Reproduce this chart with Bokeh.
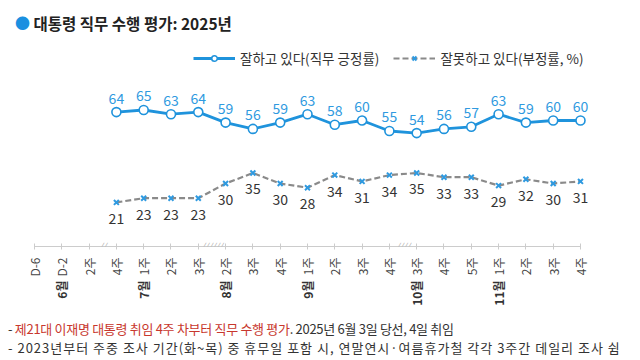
import math
from bokeh.plotting import figure
from bokeh.layouts import column
from bokeh.models import (Range1d, FixedTicker, LinearAxis, Label, LabelSet,
                          Legend, LegendItem, ColumnDataSource, Div)
from bokeh.embed import file_html
from bokeh.resources import INLINE
from bokeh.core.properties import value

# ---------------- data ----------------
tick_labels = ["D-6", "D-2", "2주", "4주", "1주", "2주", "3주", "2주", "3주", "4주",
               "1주", "2주", "3주", "4주", "3주", "4주", "5주", "1주", "2주", "3주", "4주"]
month_labels = ["6월", "7월", "8월", "9월", "10월", "11월"]
month_ticks = [1, 4, 7, 10, 14, 17]
approve = [64, 65, 63, 64, 59, 56, 59, 63, 58, 60, 55, 54, 56, 57, 63, 59, 60, 60]
disapprove = [21, 23, 23, 23, 30, 35, 30, 28, 34, 31, 34, 35, 33, 33, 29, 32, 30, 31]
data_start = 3
break_pos = [2.5, 6.5, 13.5]
break_marks = ["//", "//////", "////"]

title_text = "대통령 직무 수행 평가: 2025년"
legend_pos = "잘하고 있다(직무 긍정률)"
legend_neg = "잘못하고 있다(부정률, %)"
note1_red = "제21대 이재명 대통령 취임 4주 차부터 직무 수행 평가"
note1_rest = ". 2025년 6월 3일 당선, 4일 취임"
note2 = "- 2023년부터 주중 조사 기간(화~목) 중 휴무일 포함 시, 연말연시·여름휴가철 각각 3주간 데일리 조사 쉼"

FONT = "Noto Sans CJK KR"
BLUE = "#1f93dc"
BLUE_T = "#2f9ae0"
GRAY = "#8a8a8a"
DARK = "#333333"
RED = "#c8372d"

xs = list(range(data_start, data_start + len(approve)))

W, H = 640, 319
p = figure(width=W, height=H, output_backend="svg", toolbar_location=None,
           x_range=Range1d(-1.245, 22.198), y_range=Range1d(0, 117.14),
           y_axis_location=None, x_axis_location="below",
           min_border_left=0, min_border_right=0, min_border_top=0,
           min_border_bottom=73)
p.xgrid.visible = False
p.ygrid.visible = False
p.outline_line_color = None
p.background_fill_color = "white"
p.border_fill_color = "white"

# x axis (weeks)
ax = p.xaxis[0]
ax.ticker = FixedTicker(ticks=list(range(len(tick_labels))))
ax.major_label_overrides = {i: t for i, t in enumerate(tick_labels)}
ax.bounds = (0, len(tick_labels) - 1)
ax.axis_line_color = "#cccccc"
ax.major_tick_line_color = "#cccccc"
ax.major_tick_in = 3
ax.major_tick_out = 3
ax.minor_tick_line_color = None
ax.major_label_orientation = math.pi / 2
ax.major_label_standoff = 8
ax.major_label_text_font = FONT
ax.major_label_text_font_size = "12px"
ax.major_label_text_color = "#444444"

# month axis
max_ = LinearAxis(ticker=FixedTicker(ticks=month_ticks),
                  major_label_overrides={t: m for t, m in zip(month_ticks, month_labels)})
max_.axis_line_color = None
max_.major_tick_line_color = None
max_.minor_tick_line_color = None
max_.major_tick_out = 0
max_.major_tick_in = 0
max_.major_label_orientation = math.pi / 2
max_.major_label_standoff = 1
max_.major_label_text_font = FONT
max_.major_label_text_font_size = "12px"
max_.major_label_text_font_style = "bold"
max_.major_label_text_color = "#333333"
p.add_layout(max_, "below")

# series
src = ColumnDataSource(dict(x=xs, a=approve, d=disapprove,
                            at=[str(v) for v in approve], dt=[str(v) for v in disapprove]))
neg_line = p.line("x", "d", source=src, line_color=GRAY, line_width=2.2, line_dash="6 3")
neg_mark = p.scatter("x", "d", source=src, marker="x", size=7, line_color=BLUE_T, line_width=2)
pos_line = p.line("x", "a", source=src, line_color=BLUE, line_width=2.8)
pos_mark = p.scatter("x", "a", source=src, marker="circle", size=9, line_color=BLUE,
                     line_width=1.6, fill_color="white")

p.text("x", "a", text="at", source=src, y_offset=-14, text_align="center",
       text_baseline="middle", text_font=value(FONT), text_font_size="14px", text_color=BLUE_T)
p.text("x", "d", text="dt", source=src, y_offset=16, text_align="center",
       text_baseline="middle", text_font=value(FONT), text_font_size="14px", text_color=DARK)

# axis break marks
bsrc = ColumnDataSource(dict(x=break_pos, y=[0] * len(break_pos), t=break_marks))
p.add_layout(LabelSet(x="x", y="y", text="t", source=bsrc, text_align="center",
                      text_baseline="middle", text_font=value(FONT), text_font_size="9px",
                      text_font_style="italic", text_color="#aaaaaa"))

# legend
legend = Legend(items=[LegendItem(label=legend_pos, renderers=[pos_line, pos_mark]),
                       LegendItem(label=legend_neg, renderers=[neg_line, neg_mark])],
                orientation="horizontal", location=(193, 178), padding=0, margin=0,
                spacing=14, label_standoff=5, glyph_width=42, glyph_height=14,
                label_height=14, border_line_color=None, background_fill_alpha=0,
                label_text_font=FONT, label_text_font_size="13.5px",
                label_text_color=DARK)
p.add_layout(legend)

# title
p.add_layout(Label(x=22, y=224, x_units="screen", y_units="screen", text="●",
                   text_align="center", text_baseline="middle", text_font=FONT,
                   text_font_size="15px", text_color="#1a90e0"))
p.add_layout(Label(x=33, y=224, x_units="screen", y_units="screen", text=title_text,
                   text_baseline="middle", text_font=FONT, text_font_size="15.5px",
                   text_font_style="bold", text_color="#222222"))

# footnotes
notes_html = (
    f'<div style="font-family:\'{FONT}\';font-size:13px;line-height:19px;color:{DARK};'
    f'white-space:nowrap;padding-left:8px;">'
    f'<div style="letter-spacing:-0.3px">- <span style="color:{RED}">{note1_red}</span>{note1_rest}</div>'
    f'<div style="letter-spacing:1px">{note2}</div></div>'
)
notes = Div(text=notes_html, width=640, height=38, margin=0)

layout = column(p, notes, spacing=0)
open("out.html", "w").write(file_html(layout, INLINE))
